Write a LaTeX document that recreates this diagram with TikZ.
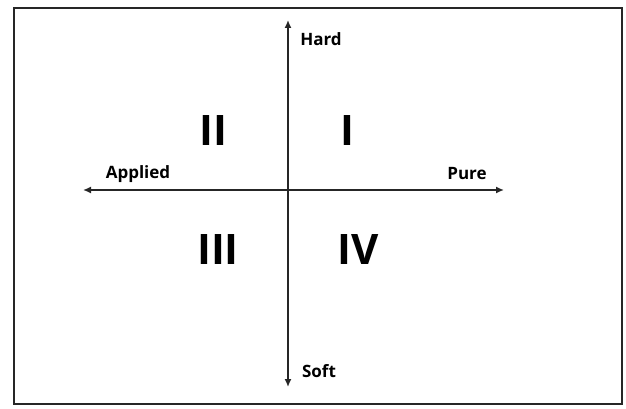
\documentclass[tikz,border=0pt]{standalone}
\usepackage{fontspec}
\setmainfont{Open Sans}
\usetikzlibrary{arrows.meta}

\begin{document}
\begin{tikzpicture}[
  x=1pt,y=-1pt,
  ax/.style={-{Latex[length=8pt,width=7pt]},line width=1.5pt,color=black!85},
  lbl/.style={font=\bfseries\fontsize{17}{19}\selectfont,inner sep=0pt},
  quad/.style={font=\bfseries\fontsize{42}{44}\selectfont,inner sep=0pt}
]
  \useasboundingbox (0,0) rectangle (626,409);
  \draw[line width=2.2pt,color=black!85] (14,8) rectangle (622,404);
  % axes
  \coordinate (o) at (288,190);
  \coordinate (top) at (288,20);
  \coordinate (bot) at (288,387);
  \coordinate (lft) at (83,190);
  \coordinate (rgt) at (504,190);
  \draw[ax] (o) -- (top);
  \draw[ax] (o) -- (bot);
  \draw[ax] (o) -- (lft);
  \draw[ax] (o) -- (rgt);
  % axis labels
  \node[lbl] (hard) at (321,39) {Hard};
  \node[lbl] (soft) at (319,371) {Soft};
  \node[lbl] (applied) at (138,174) {Applied};
  \node[lbl] (pure) at (467,174) {Pure};
  % quadrants
  \node[quad] (q1) at (347,131) {I};
  \node[quad] (q2) at (213,131) {II};
  \node[quad] (q3) at (218,250) {III};
  \node[quad] (q4) at (358,250) {IV};
\end{tikzpicture}
\end{document}
